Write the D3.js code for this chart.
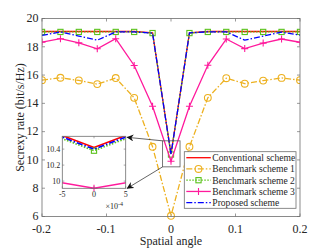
<!DOCTYPE html>
<html><head><meta charset="utf-8">
<script src="https://cdn.jsdelivr.net/npm/d3@7"></script>
<style>
html,body{margin:0;padding:0;background:#fff;}
svg text{fill:#262626;}
</style></head>
<body>
<svg id="c" width="332" height="249" font-family="Liberation Serif, DejaVu Serif, serif"></svg>
<script>
const angles = [-0.2, -0.1714, -0.1429, -0.1143, -0.0857, -0.0571, -0.0286, 0, 0.0286, 0.0571, 0.0857, 0.1143, 0.1429, 0.1714, 0.2];
const conventional = [19.08,19.08,19.08,19.08,19.08,19.08,18.99,10.42,18.99,19.08,19.08,19.08,19.08,19.08,19.08];
const bench1 = [15.64,15.81,15.62,15.36,15.79,14.39,10.93,6.05,10.93,14.39,15.78,15.39,15.61,15.80,15.64];
const bench2 = [19.05,19.05,19.05,19.05,19.05,19.05,18.97,10.38,18.97,19.05,19.05,19.05,19.05,19.05,19.05];
const bench3 = [18.33,18.57,18.28,17.86,18.57,16.68,13.80,9.91,13.80,16.69,18.55,17.87,18.26,18.55,18.32];
const proposed = [18.80,19.05,18.76,18.47,19.05,19.05,18.97,10.40,18.98,19.06,19.06,18.47,18.76,19.04,18.82];
const seriesNames = ["Conventional scheme","Benchmark scheme 1","Benchmark scheme 2","Benchmark scheme 3","Proposed scheme"];
const xTicks = [-0.2,-0.1,0,0.1,0.2];
const yTicks = [6,8,10,12,14,16,18,20];
const insetXTicks = [-5e-4,0,5e-4];
const insetYTicks = [10,10.2,10.4];
const zoomBox = {x0:-0.013,x1:0.014,y0:9.51,y1:11.35};

const series = [
  {name:seriesNames[0], v:conventional, color:"#FF0000", dash:null, marker:null},
  {name:seriesNames[1], v:bench1, color:"#EDB120", dash:"6,2,1.5,2", marker:"circle"},
  {name:seriesNames[2], v:bench2, color:"#5BC21C", dash:"1.5,1.5", marker:"square"},
  {name:seriesNames[3], v:bench3, color:"#FF1A9C", dash:null, marker:"plus"},
  {name:seriesNames[4], v:proposed, color:"#0000FF", dash:"6,2,1.5,2", marker:null}
];

const svg = d3.select("#c");
const L=42, R=300, T=18.5, B=216.5;
const x = d3.scaleLinear([-0.2,0.2],[L,R]);
const y = d3.scaleLinear([6,20],[B,T]);
const axCol = "#6e6e6e";

svg.append("defs").append("marker").attr("id","arr").attr("viewBox","0 0 10 10")
  .attr("refX",9).attr("refY",5).attr("markerWidth",7).attr("markerHeight",7)
  .attr("orient","auto").attr("markerUnits","userSpaceOnUse")
  .append("path").attr("d","M0,0 L10,5 L0,10 L3,5 Z").attr("fill","#111");

function drawMarker(g, type, color, cx, cy, s){
  s = s||1;
  if(type==="circle") g.append("circle").attr("cx",cx).attr("cy",cy).attr("r",3.4*s).attr("fill","none").attr("stroke",color).attr("stroke-width",1.1);
  else if(type==="square") g.append("rect").attr("x",cx-2.6*s).attr("y",cy-2.6*s).attr("width",5.2*s).attr("height",5.2*s).attr("fill","none").attr("stroke",color).attr("stroke-width",1.1);
  else if(type==="plus") g.append("path").attr("d",`M${cx-3.5*s},${cy}H${cx+3.5*s}M${cx},${cy-3.5*s}V${cy+3.5*s}`).attr("stroke",color).attr("stroke-width",1.1);
}

const main = svg.append("g");
main.append("rect").attr("x",L).attr("y",T).attr("width",R-L).attr("height",B-T).attr("fill","#fff");

xTicks.forEach(t=>{
  main.append("line").attr("x1",x(t)).attr("x2",x(t)).attr("y1",B).attr("y2",B-3).attr("stroke",axCol).attr("stroke-width",0.7);
  main.append("line").attr("x1",x(t)).attr("x2",x(t)).attr("y1",T).attr("y2",T+3).attr("stroke",axCol).attr("stroke-width",0.7);
  main.append("text").attr("x",x(t)+(t<0?-0.5:0)).attr("y",B+16).attr("text-anchor","middle").attr("font-size",12).text(t===0?"0":d3.format(".1f")(t).replace("−","-"));
});
yTicks.forEach(t=>{
  main.append("line").attr("x1",L).attr("x2",L+3).attr("y1",y(t)).attr("y2",y(t)).attr("stroke",axCol).attr("stroke-width",0.7);
  main.append("line").attr("x1",R).attr("x2",R-3).attr("y1",y(t)).attr("y2",y(t)).attr("stroke",axCol).attr("stroke-width",0.7);
  main.append("text").attr("x",L-3.5).attr("y",y(t)+3.8).attr("text-anchor","end").attr("font-size",12).text(t);
});

main.append("clipPath").attr("id","mclip").append("rect").attr("x",L).attr("y",T-6).attr("width",R-L).attr("height",B-T+12);
const plot = main.append("g").attr("clip-path","url(#mclip)");
const line = d3.line().x((d,i)=>x(angles[i])).y(d=>y(d));
series.forEach(s=>{
  plot.append("path").datum(s.v).attr("d",line).attr("fill","none").attr("stroke",s.color)
    .attr("stroke-width",1.3).attr("stroke-dasharray",s.dash);
  if(s.marker) s.v.forEach((v,i)=>drawMarker(plot,s.marker,s.color,x(angles[i]),y(v)));
});
main.append("rect").attr("x",L).attr("y",T).attr("width",R-L).attr("height",B-T).attr("fill","none").attr("stroke",axCol).attr("stroke-width",0.8);

svg.append("text").attr("x",(L+R)/2).attr("y",245).attr("text-anchor","middle").attr("font-size",12).text("Spatial angle");
svg.append("text").attr("transform",`translate(24,${(T+B)/2}) rotate(-90)`).attr("text-anchor","middle").attr("font-size",12).text("Secrexy rate (bit/s/Hz)");

const zx0=x(zoomBox.x0), zx1=x(zoomBox.x1), zy0=y(zoomBox.y1), zy1=y(zoomBox.y0);
svg.append("rect").attr("x",zx0).attr("y",zy0).attr("width",zx1-zx0).attr("height",zy1-zy0).attr("fill","none").attr("stroke","#555").attr("stroke-width",0.8);

const IL=62.3, IR=125.7, IT=136.3, IB=188.3;
const xi = d3.scaleLinear([-5e-4,5e-4],[IL,IR]);
const yi = d3.scaleLinear([9.91,10.56],[IB,IT]);
const ins = svg.append("g");
ins.append("rect").attr("x",IL).attr("y",IT).attr("width",IR-IL).attr("height",IB-IT).attr("fill","#fff");
ins.append("clipPath").attr("id","iclip").append("rect").attr("x",IL).attr("y",IT).attr("width",IR-IL).attr("height",IB-IT+3);
const ip = ins.append("g").attr("clip-path","url(#iclip)");
const iline = d3.line().x((d,i)=>xi(angles[i])).y(d=>yi(d));
series.forEach(s=>{
  ip.append("path").datum(s.v).attr("d",iline).attr("fill","none").attr("stroke",s.color)
    .attr("stroke-width",1.6).attr("stroke-dasharray",s.dash);
  if(s.marker) s.v.forEach((v,i)=>{ if(Math.abs(angles[i])<=5e-4 && v>=9.85 && v<=10.6) drawMarker(ip,s.marker,s.color,xi(angles[i]),yi(v)); });
});
insetXTicks.forEach(t=>{
  ins.append("line").attr("x1",xi(t)).attr("x2",xi(t)).attr("y1",IB).attr("y2",IB-2).attr("stroke",axCol).attr("stroke-width",0.6);
  ins.append("line").attr("x1",xi(t)).attr("x2",xi(t)).attr("y1",IT).attr("y2",IT+2).attr("stroke",axCol).attr("stroke-width",0.6);
  ins.append("text").attr("x",xi(t)).attr("y",IB+9).attr("text-anchor","middle").attr("font-size",8).text(Math.round(t*1e4));
});
insetYTicks.forEach(t=>{
  ins.append("line").attr("x1",IL).attr("x2",IL+2).attr("y1",yi(t)).attr("y2",yi(t)).attr("stroke",axCol).attr("stroke-width",0.6);
  ins.append("line").attr("x1",IR).attr("x2",IR-2).attr("y1",yi(t)).attr("y2",yi(t)).attr("stroke",axCol).attr("stroke-width",0.6);
  ins.append("text").attr("x",IL-2).attr("y",yi(t)+3).attr("text-anchor","end").attr("font-size",8).text(t===10?"10":d3.format(".1f")(t));
});
ins.append("rect").attr("x",IL).attr("y",IT).attr("width",IR-IL).attr("height",IB-IT).attr("fill","none").attr("stroke",axCol).attr("stroke-width",0.8);
const mult = ins.append("text").attr("x",105.5).attr("y",209).attr("font-size",8);
mult.append("tspan").text("×10");
mult.append("tspan").attr("dy",-3).attr("font-size",6).text("-4");

svg.append("line").attr("x1",zx0).attr("y1",zy0).attr("x2",IR+1.5).attr("y2",IT+1).attr("stroke","#222").attr("stroke-width",0.7).attr("marker-end","url(#arr)");
svg.append("line").attr("x1",zx0).attr("y1",zy1).attr("x2",IR+1.5).attr("y2",IB).attr("stroke","#222").attr("stroke-width",0.7).attr("marker-end","url(#arr)");

const LX=184.3, LY=151.7, LW=111.7, LH=56.6;
const leg = svg.append("g");
leg.append("rect").attr("x",LX).attr("y",LY).attr("width",LW).attr("height",LH).attr("fill","#fff").attr("stroke",axCol).attr("stroke-width",0.8);
series.forEach((s,i)=>{
  const yy = LY+6+i*11.25;
  leg.append("line").attr("x1",LX+2).attr("x2",LX+26.5).attr("y1",yy).attr("y2",yy).attr("stroke",s.color).attr("stroke-width",1.3).attr("stroke-dasharray",s.dash);
  if(s.marker) drawMarker(leg,s.marker,s.color,LX+14.2,yy);
  leg.append("text").attr("x",LX+28).attr("y",yy+3.4).attr("font-size",9.6).text(s.name);
});
</script>
</body></html>
